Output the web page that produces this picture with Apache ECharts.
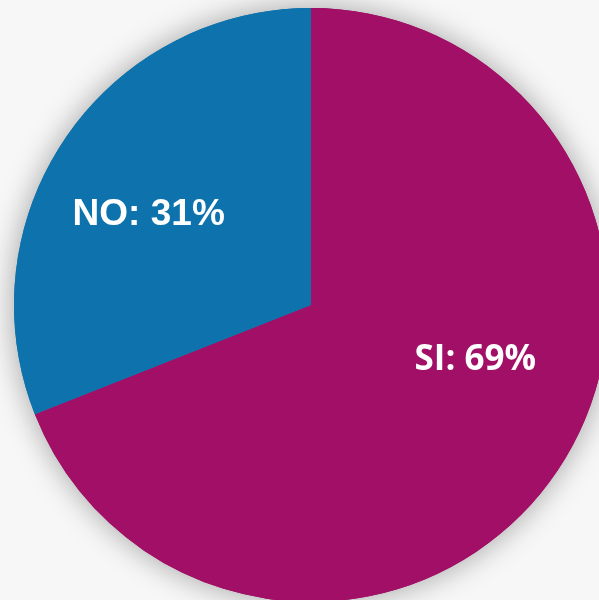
<!DOCTYPE html>
<html>
<head>
<meta charset="utf-8">
<script src="https://cdn.jsdelivr.net/npm/echarts@6/dist/echarts.min.js"></script>
<style>
  html, body { margin: 0; padding: 0; background: #f7f7f7; }
  #chart { width: 599px; height: 600px; }
</style>
</head>
<body>
<div id="chart"></div>
<script>
// datos
var categorias = ['SI', 'NO'];
var valores = [69, 31];
var colores = ['#a11066', '#0e73ac'];

var myChart = echarts.init(document.getElementById('chart'));

var datos = categorias.map(function (c, i) {
  return { name: c, value: valores[i], itemStyle: { color: colores[i] } };
});

option = {
  backgroundColor: '#f7f7f7',
  animation: false,
  series: [
    {
      // sombra detras del pastel
      type: 'pie',
      silent: true,
      center: [311, 305],
      radius: [0, 297],
      startAngle: 90,
      clockwise: true,
      label: { show: false },
      labelLine: { show: false },
      itemStyle: {
        shadowBlur: 30,
        shadowColor: 'rgba(0,0,0,0.35)'
      },
      data: datos
    },
    {
      type: 'pie',
      center: [311, 305],
      radius: [0, 297],
      startAngle: 90,
      clockwise: true,
      labelLine: { show: false },
      label: {
        show: true,
        position: 'inside',
        color: '#ffffff',
        fontWeight: 'bold',
        formatter: function (p) {
          return p.name + ': ' + p.value + '%';
        }
      },
      data: [
        {
          name: datos[0].name, value: datos[0].value, itemStyle: datos[0].itemStyle,
          label: { fontFamily: '"Open Sans", sans-serif', fontSize: 35, offset: [39, -30] }
        },
        {
          name: datos[1].name, value: datos[1].value, itemStyle: datos[1].itemStyle,
          label: { fontFamily: '"Liberation Sans", Arial, sans-serif', fontSize: 37, offset: [-37, -5] }
        }
      ]
    }
  ]
};
myChart.setOption(option);
</script>
</body>
</html>
